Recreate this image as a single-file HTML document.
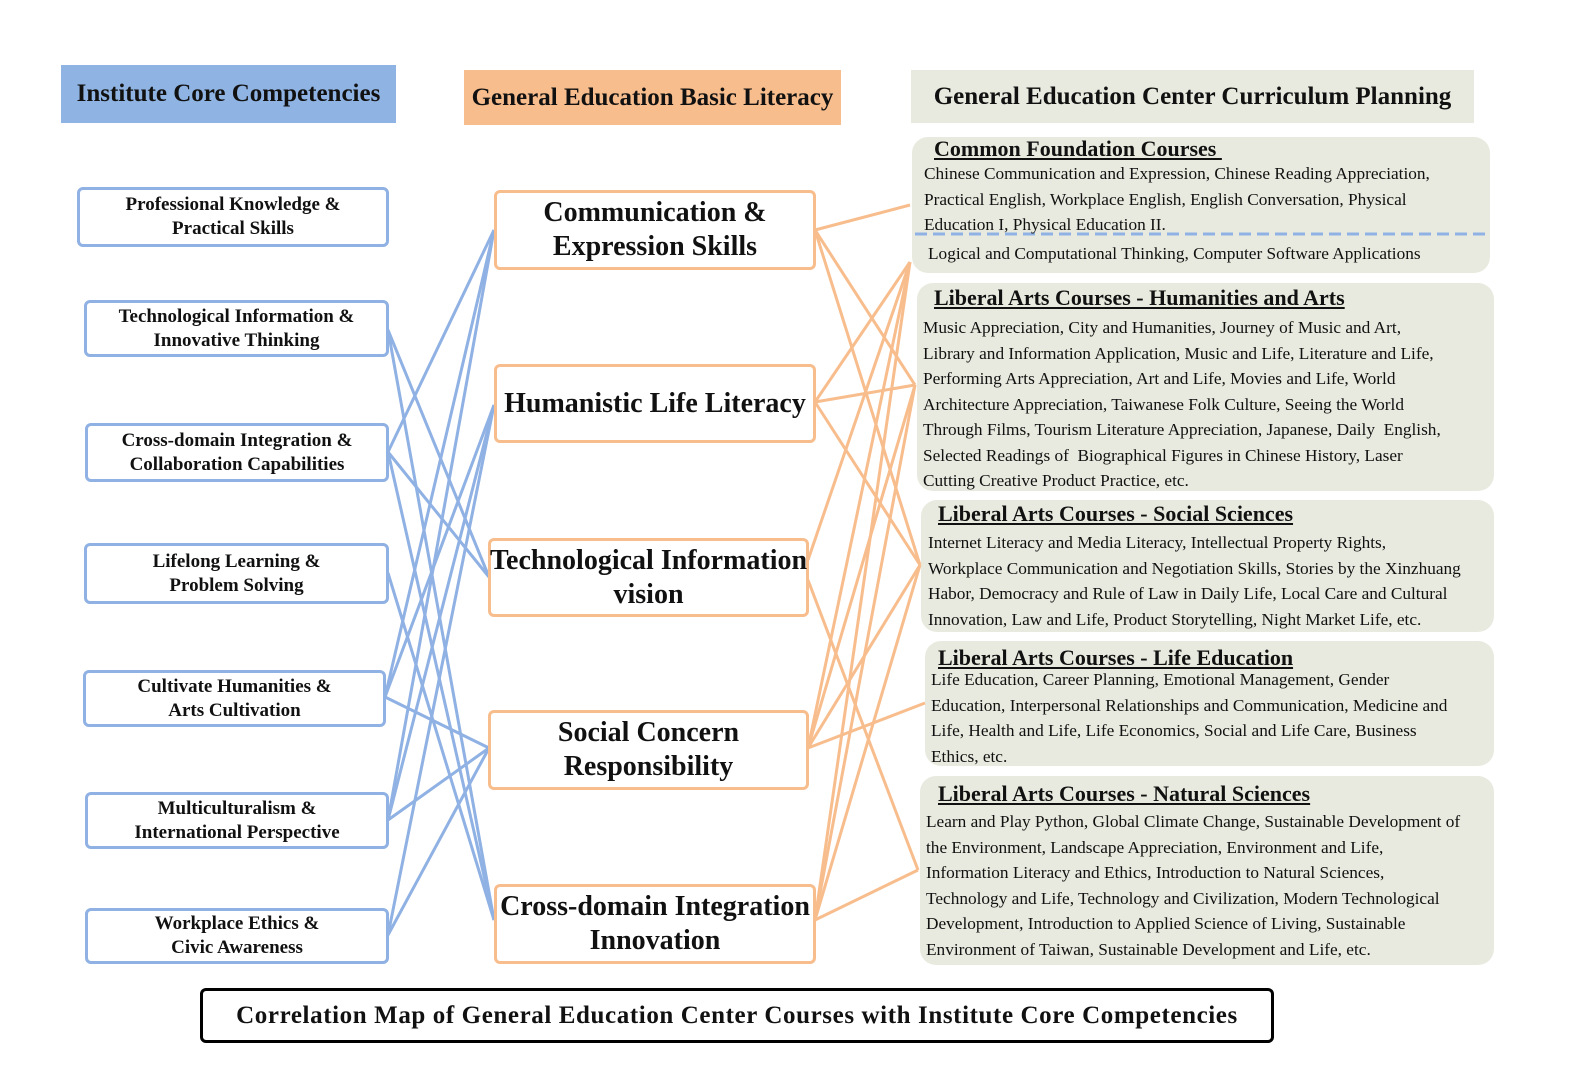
<!DOCTYPE html>
<html><head><meta charset="utf-8"><style>
body{margin:0;width:1595px;height:1080px;background:#fff;position:relative;overflow:hidden;font-family:"Liberation Serif",serif;color:#111}
.a{position:absolute;box-sizing:border-box}
.hd{font-weight:bold;font-size:25px;display:flex;align-items:center;justify-content:center}
.lb{border:3px solid #8fb1e3;border-radius:6px;font-weight:bold;font-size:19px;text-align:center;line-height:24px;display:flex;align-items:center;justify-content:center;background:#fff}
.mb{border:3px solid #f8bd8d;border-radius:6px;font-weight:bold;font-size:28px;text-align:center;line-height:34px;display:flex;align-items:center;justify-content:center;background:#fff;white-space:nowrap}
.pn{background:#e9eadf;border-radius:16px}
.pt{position:absolute;font-weight:bold;font-size:22px;text-decoration:underline;white-space:nowrap}
.pb{position:absolute;font-size:17.3px;line-height:25.5px;white-space:nowrap}
</style></head><body>
<div class="a hd" style="left:61px;top:65px;width:335px;height:58px;background:#8fb4e3">Institute Core Competencies</div>
<div class="a hd" style="left:464px;top:70px;width:377px;height:55px;background:#f8bd8d">General Education Basic Literacy</div>
<div class="a hd" style="left:911px;top:70px;width:563px;height:53px;background:#e9eadf">General Education Center Curriculum Planning</div>

<div class="a pn" style="left:912px;top:137px;width:578px;height:136px"></div>
<div class="a pn" style="left:917px;top:283px;width:577px;height:208px"></div>
<div class="a pn" style="left:921px;top:500px;width:573px;height:132px"></div>
<div class="a pn" style="left:925px;top:641px;width:569px;height:125px"></div>
<div class="a pn" style="left:920px;top:776px;width:574px;height:189px"></div>

<svg class="a" style="left:0;top:0" width="1595" height="1080">
<line x1="915" y1="234" x2="1490" y2="234" stroke="#8fb1e3" stroke-width="3" stroke-dasharray="12,6"/>
<g stroke="#8fb1e3" stroke-width="3" fill="none">
<line x1="388" y1="330" x2="489" y2="577"/><line x1="388" y1="330" x2="494" y2="920"/>
<line x1="388" y1="452" x2="494" y2="230"/><line x1="388" y1="452" x2="489" y2="577"/><line x1="388" y1="452" x2="494" y2="920"/>
<line x1="388" y1="573" x2="494" y2="920"/>
<line x1="385" y1="697" x2="494" y2="230"/><line x1="385" y1="697" x2="494" y2="405"/><line x1="385" y1="697" x2="489" y2="748"/>
<line x1="388" y1="820" x2="494" y2="230"/><line x1="388" y1="820" x2="494" y2="405"/><line x1="388" y1="820" x2="489" y2="748"/>
<line x1="388" y1="935" x2="494" y2="405"/><line x1="388" y1="935" x2="489" y2="748"/>
</g>
<g stroke="#f8bd8d" stroke-width="3" fill="none">
<line x1="815" y1="230" x2="910" y2="205"/><line x1="815" y1="230" x2="915" y2="385"/><line x1="815" y1="230" x2="920" y2="565"/>
<line x1="815" y1="402" x2="910" y2="262"/><line x1="815" y1="402" x2="915" y2="385"/><line x1="815" y1="402" x2="920" y2="565"/>
<line x1="808" y1="560" x2="910" y2="262"/><line x1="808" y1="580" x2="918" y2="870"/>
<line x1="808" y1="748" x2="915" y2="385"/><line x1="808" y1="748" x2="920" y2="565"/><line x1="808" y1="748" x2="925" y2="703"/><line x1="808" y1="748" x2="910" y2="262"/>
<line x1="815" y1="920" x2="910" y2="262"/><line x1="815" y1="920" x2="915" y2="385"/><line x1="815" y1="920" x2="920" y2="565"/><line x1="815" y1="920" x2="918" y2="870"/>
</g>
</svg>

<div class="a lb" style="left:77px;top:187px;width:312px;height:60px">Professional Knowledge &amp;<br>Practical Skills</div>
<div class="a lb" style="left:84px;top:300px;width:305px;height:57px">Technological Information &amp;<br>Innovative Thinking</div>
<div class="a lb" style="left:85px;top:423px;width:304px;height:59px">Cross-domain Integration &amp;<br>Collaboration Capabilities</div>
<div class="a lb" style="left:84px;top:543px;width:305px;height:61px">Lifelong Learning &amp;<br>Problem Solving</div>
<div class="a lb" style="left:83px;top:670px;width:303px;height:57px">Cultivate Humanities &amp;<br>Arts Cultivation</div>
<div class="a lb" style="left:85px;top:792px;width:304px;height:57px">Multiculturalism &amp;<br>International Perspective</div>
<div class="a lb" style="left:85px;top:908px;width:304px;height:56px">Workplace Ethics &amp;<br>Civic Awareness</div>

<div class="a mb" style="left:494px;top:190px;width:322px;height:80px">Communication &amp;<br>Expression Skills</div>
<div class="a mb" style="left:494px;top:364px;width:322px;height:79px">Humanistic Life Literacy</div>
<div class="a mb" style="left:488px;top:538px;width:321px;height:79px">Technological Information<br>vision</div>
<div class="a mb" style="left:488px;top:710px;width:321px;height:80px">Social Concern<br>Responsibility</div>
<div class="a mb" style="left:494px;top:884px;width:322px;height:80px">Cross-domain Integration<br>Innovation</div>

<div class="pt" style="left:934px;top:136px">Common Foundation Courses&nbsp;</div>
<div class="pb" style="left:924px;top:161px">Chinese Communication and Expression, Chinese Reading Appreciation,<br>Practical English, Workplace English, English Conversation, Physical<br>Education I, Physical Education II.</div>
<div class="pb" style="left:928px;top:241px">Logical and Computational Thinking, Computer Software Applications</div>
<div class="pt" style="left:934px;top:285px">Liberal Arts Courses - Humanities and Arts</div>
<div class="pb" style="left:923px;top:315px">Music Appreciation, City and Humanities, Journey of Music and Art,<br>Library and Information Application, Music and Life, Literature and Life,<br>Performing Arts Appreciation, Art and Life, Movies and Life, World<br>Architecture Appreciation, Taiwanese Folk Culture, Seeing the World<br>Through Films, Tourism Literature Appreciation, Japanese, Daily&nbsp; English,<br>Selected Readings of&nbsp; Biographical Figures in Chinese History, Laser<br>Cutting Creative Product Practice, etc.</div>
<div class="pt" style="left:938px;top:501px">Liberal Arts Courses - Social Sciences</div>
<div class="pb" style="left:928px;top:530px">Internet Literacy and Media Literacy, Intellectual Property Rights,<br>Workplace Communication and Negotiation Skills, Stories by the Xinzhuang<br>Habor, Democracy and Rule of Law in Daily Life, Local Care and Cultural<br>Innovation, Law and Life, Product Storytelling, Night Market Life, etc.</div>
<div class="pt" style="left:938px;top:645px">Liberal Arts Courses - Life Education</div>
<div class="pb" style="left:931px;top:667px">Life Education, Career Planning, Emotional Management, Gender<br>Education, Interpersonal Relationships and Communication, Medicine and<br>Life, Health and Life, Life Economics, Social and Life Care, Business<br>Ethics, etc.</div>
<div class="pt" style="left:938px;top:781px">Liberal Arts Courses - Natural Sciences</div>
<div class="pb" style="left:926px;top:809px">Learn and Play Python, Global Climate Change, Sustainable Development of<br>the Environment, Landscape Appreciation, Environment and Life,<br>Information Literacy and Ethics, Introduction to Natural Sciences,<br>Technology and Life, Technology and Civilization, Modern Technological<br>Development, Introduction to Applied Science of Living, Sustainable<br>Environment of Taiwan, Sustainable Development and Life, etc.</div>

<div class="a" style="left:200px;top:988px;width:1074px;height:55px;border:3px solid #000;border-radius:6px;font-weight:bold;font-size:25px;display:flex;align-items:center;justify-content:center;letter-spacing:0.6px">Correlation Map of General Education Center Courses with Institute Core Competencies</div>
</body></html>
